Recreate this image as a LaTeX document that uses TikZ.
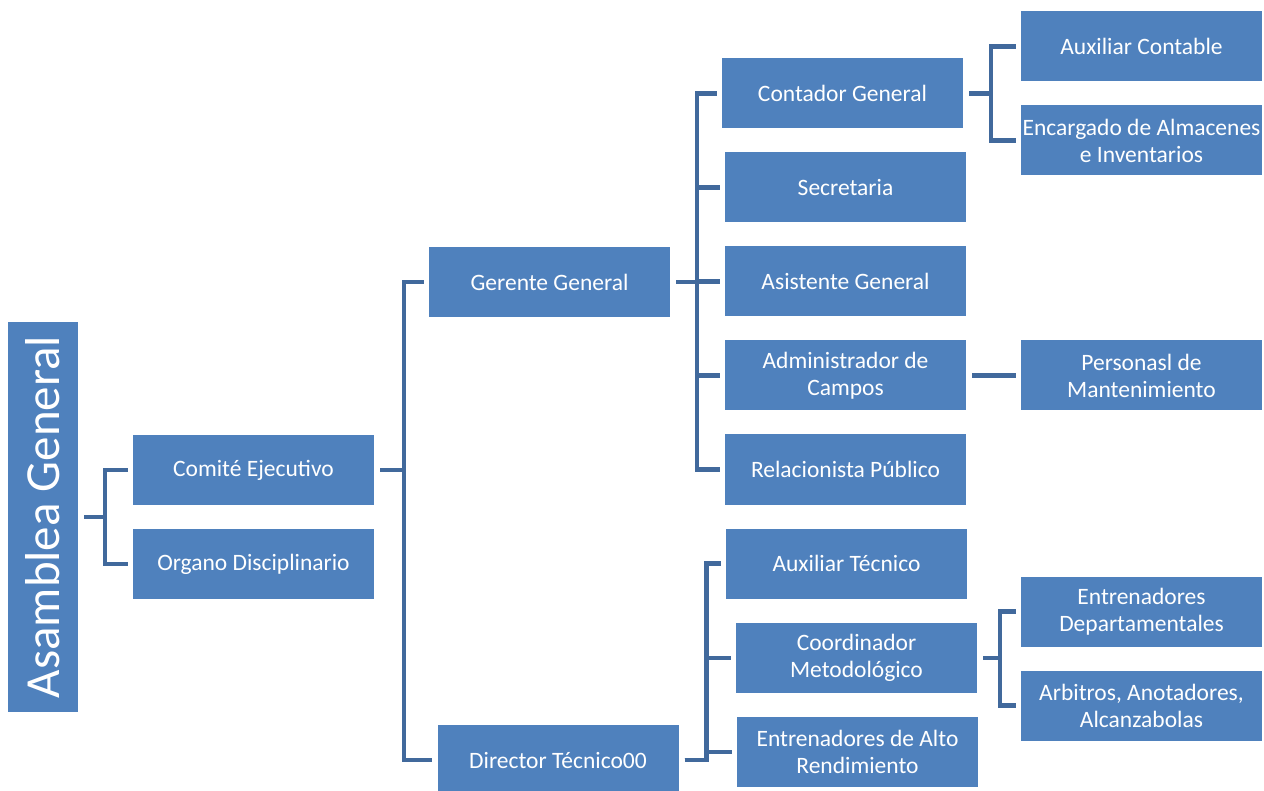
\documentclass[tikz,border=0pt]{standalone}
\usepackage{fontspec}
\setmainfont{Carlito}
\usepackage{tikz}
\definecolor{boxblue}{HTML}{4F81BD}
\definecolor{linkblue}{HTML}{41699C}

\begin{document}
\begin{tikzpicture}[x = 1pt, y = -1pt]
\tikzstyle{unit} = [rectangle, fill = boxblue, text = white, align = center, inner sep = 0pt, minimum width = 241pt, minimum height = 70pt, font = \fontsize{23.5}{27}\selectfont]
\tikzstyle{link} = [draw = linkblue, line width = 4.5pt, shorten <= 6pt, shorten >= 5pt]
\useasboundingbox (0,0) rectangle (1264,791);

\node[unit, minimum width = 70pt, minimum height = 390pt, font = \fontsize{49}{55}\selectfont] (ag) at (43,517) {\rotatebox{90}{Asamblea General}};

\node[unit] (ce) at (253.5,470) {Comit\'e Ejecutivo};
\node[unit] (od) at (253.5,564) {Organo Disciplinario};

\node[unit] (gg) at (549.5,282) {Gerente General};
\node[unit] (dt) at (558,760) {Director T\'ecnico00};

\node[unit] (cg) at (842.5,93.5) {Contador General};
\node[unit] (sec) at (845.5,187.5) {Secretaria};
\node[unit] (asg) at (845.5,281.5) {Asistente General};
\node[unit] (adm) at (845.5,375.5) {Administrador de\\Campos};
\node[unit] (rp) at (845.5,469.5) {Relacionista P\'ublico};

\node[unit] (acon) at (1141.5,46.5) {Auxiliar Contable};
\node[unit] (enc) at (1141.5,140.5) {Encargado de Almacenes\\e Inventarios};
\node[unit] (pm) at (1141.5,375.5) {Personasl de\\Mantenimiento};

\node[unit] (at) at (846.5,563.5) {Auxiliar T\'ecnico};
\node[unit] (cm) at (856.5,658) {Coordinador\\Metodol\'ogico};
\node[unit] (ea) at (857.5,752) {Entrenadores de Alto\\Rendimiento};

\node[unit] (ed) at (1141.5,611.5) {Entrenadores\\Departamentales};
\node[unit] (arb) at (1141.5,705.5) {Arbitros, Anotadores,\\Alcanzabolas};

\foreach \to in {ce,od}
	\draw[link] (ag.east) -- ++(27,0) |- (\to.west);
\foreach \to in {gg,dt}
	\draw[link] (ce.east) -- ++(30,0) |- (\to.west);
\foreach \to in {cg,sec,asg,adm,rp}
	\draw[link] (gg.east) -- ++(27,0) |- (\to.west);
\foreach \to in {acon,enc}
	\draw[link] (cg.east) -- ++(28,0) |- (\to.west);
\draw[link] (adm.east) -- (pm.west);
\foreach \to in {at,cm,ea}
	\draw[link] (dt.east) -- ++(28,0) |- (\to.west);
\foreach \to in {ed,arb}
	\draw[link] (cm.east) -- ++(23,0) |- (\to.west);
\end{tikzpicture}
\end{document}
